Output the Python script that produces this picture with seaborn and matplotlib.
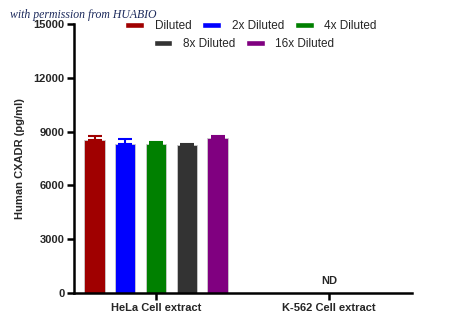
import numpy as np
import pandas as pd
import matplotlib
matplotlib.use("Agg")
import matplotlib.pyplot as plt
import seaborn as sns
from matplotlib.patches import Patch

categories = ["HeLa Cell extract", "K-562 Cell extract"]
dilutions = ["Diluted", "2x Diluted", "4x Diluted", "8x Diluted", "16x Diluted"]
hela_means = [8530, 8310, 8320, 8240, 8640]
hela_errs = [220, 280, 120, 90, 100]
k562_means = [np.nan] * 5
colors = ["#a00000", "#0000ff", "#008000", "#333333", "#800080"]
yticks = [0, 3000, 6000, 9000, 12000, 15000]

sns.set_style("white")
plt.rcParams['font.family'] = ['Liberation Sans', 'DejaVu Sans']

rows = []
for d, m in zip(dilutions, hela_means):
    rows.append({"cat": categories[0], "dil": d, "val": m})
for d, m in zip(dilutions, k562_means):
    rows.append({"cat": categories[1], "dil": d, "val": m})
df = pd.DataFrame(rows)

fig = plt.figure(figsize=(4.5, 3.32), dpi=100)
ax = fig.add_axes([74/450, 1-293/332, 338/450, 269/332])
sns.barplot(data=df, x="cat", y="val", hue="dil", hue_order=dilutions,
            palette=colors, saturation=1, errorbar=None, width=0.89, gap=0.34, ax=ax,
            edgecolor="#cccccc", linewidth=0.6, legend=False)

# error bars (upper only)
bars = [p for p in ax.patches if np.isfinite(p.get_height()) and p.get_height() > 0]
bars = sorted(bars, key=lambda p: p.get_x())
for p, e, c in zip(bars, hela_errs, colors):
    xc = p.get_x() + p.get_width() / 2
    h = p.get_height()
    ax.errorbar([xc], [h], yerr=[[0], [e]], fmt="none", ecolor=c,
                elinewidth=1.5, capsize=5, capthick=1.5)

ax.text(1, 400, "ND", ha="center", va="bottom", fontsize=8, fontweight="bold")

ax.set_xlim(-0.475, 1.481)
ax.set_ylim(0, 15000)
ax.set_yticks(yticks)
ax.set_yticklabels([str(t) for t in yticks], fontsize=8, fontweight="bold")
ax.set_xticks([0, 1])
ax.set_xticklabels(categories, fontsize=8, fontweight="bold")
ax.set_xlabel("")
ax.set_ylabel("Human CXADR (pg/ml)", fontsize=8, fontweight="bold", labelpad=6)
sns.despine(ax=ax)
for s in ["left", "bottom"]:
    ax.spines[s].set_linewidth(1.8)
    ax.spines[s].set_color("black")
ax.tick_params(axis="both", which="both", length=5, width=1.8, color="black",
               direction="out", left=True, bottom=True, pad=2)

h1 = [Patch(facecolor=c) for c in colors[:3]]
h2 = [Patch(facecolor=c) for c in colors[3:]]
kw = dict(frameon=False, fontsize=8.5, handlelength=1.6, handleheight=0.45,
          columnspacing=0.9, handletextpad=0.9, borderpad=0)
fig.legend(h1, dilutions[:3], loc="center", bbox_to_anchor=(251/450, 1-26/332), ncol=3, **kw)
fig.legend(h2, dilutions[3:], loc="center", bbox_to_anchor=(244/450, 1-44/332), ncol=2, **kw)

fig.text(10/450, 1-15/332, "with permission from HUABIO", fontsize=8.5, style="italic",
         family=["Liberation Serif", "DejaVu Serif"], color="#1c2a5c", va="center")

fig.savefig("out.png", dpi=100)
